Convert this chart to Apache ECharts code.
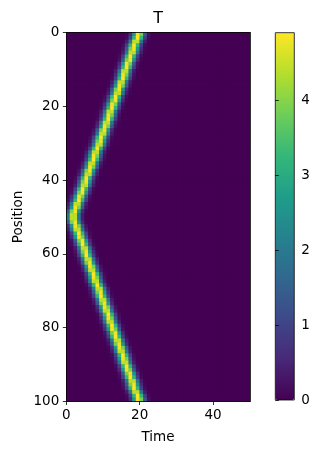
<!DOCTYPE html>
<html><head><meta charset="utf-8">
<script src="https://cdn.jsdelivr.net/npm/echarts@6/dist/echarts.min.js"></script>
<style>html,body{margin:0;padding:0;background:#fff}#c{width:322px;height:455px}</style>
</head><body><div id="c"></div>
<script>
// ---- data ----
const timeCategories = Array.from({length: 50}, (_, i) => i);      // time cells 0..49
const positionCategories = Array.from({length: 100}, (_, i) => i); // position cells 0..99
// time (centre of the bright pulse) for each position row
const arrivalTime = [
  19.7,19.4,19.0,18.6,18.3,17.9,17.5,17.2,16.8,16.5,
  16.1,15.7,15.4,15.0,14.7,14.3,13.9,13.6,13.2,12.8,
  12.5,12.1,11.8,11.4,11.0,10.7,10.3,9.9,9.6,9.2,
  8.9,8.5,8.1,7.8,7.4,7.0,6.7,6.3,6.0,5.6,
  5.2,4.9,4.5,4.2,3.8,3.4,3.1,2.7,2.3,2.0,
  2.0,2.3,2.7,3.1,3.4,3.8,4.2,4.5,4.9,5.2,
  5.6,6.0,6.3,6.7,7.0,7.4,7.8,8.1,8.5,8.9,
  9.2,9.6,9.9,10.3,10.7,11.0,11.4,11.8,12.1,12.5,
  12.8,13.2,13.6,13.9,14.3,14.7,15.0,15.4,15.7,16.1,
  16.5,16.8,17.2,17.5,17.9,18.3,18.6,19.0,19.4,19.7
];
const pulseProfile = [4.90,4.78,4.42,3.88,3.24,2.57,1.93,1.38,0.94,0.60,0.37,0.22,0.12,0.06,0.03];
const xTicks = [0, 20, 40];
const yTicks = [0, 20, 40, 60, 80, 100];
const colorbarTicks = [0, 1, 2, 3, 4];
const colorMin = 0, colorMax = 4.9;
const viridis = ['#440154','#482878','#3e4989','#31688e','#26828e','#1f9e89','#35b779','#6ece58','#b5de2b','#fde725'];

// ---- build heatmap table ----
const cells = [];
for (let r = 0; r < positionCategories.length; r++) {
  for (let c = 0; c < timeCategories.length; c++) {
    const d = Math.abs(c + 0.5 - arrivalTime[r]);
    const k = Math.round(d / 0.25);
    const v = k < pulseProfile.length ? pulseProfile[k] : 0;
    cells.push([c, r, v]);
  }
}

const FONT = 'DejaVu Sans';
const FS = 13.5;
const G = {left: 66.3, top: 32.5, width: 183.5, height: 369};
const CB = {left: 275.3, top: 32.7, width: 19, height: 367.3};
const tickStyle = {color: '#000', width: 0.8};
const labelStyle = {color: '#000', fontFamily: FONT, fontSize: FS, margin: 7};

const chart = echarts.init(document.getElementById('c'), null, {renderer: 'canvas'});
chart.setOption({
  animation: false,
  backgroundColor: '#fff',
  grid: [
    {left: G.left, top: G.top, width: G.width, height: G.height, backgroundColor: '#440154', show: true, borderWidth: 0},
    {left: CB.left, top: CB.top, width: CB.width, height: CB.height}
  ],
  xAxis: [
    {gridIndex: 0, type: 'category', data: timeCategories, show: false, position: 'bottom'},
    {gridIndex: 0, type: 'value', min: 0, max: 50, interval: 20, position: 'bottom', z: 10,
     axisLine: {show: true, onZero: false, lineStyle: tickStyle},
     axisTick: {show: true, length: 3.5, lineStyle: tickStyle, customValues: xTicks},
     axisLabel: Object.assign({customValues: xTicks}, labelStyle),
     splitLine: {show: false},
     name: 'Time', nameLocation: 'middle', nameGap: 29,
     nameTextStyle: {color: '#000', fontFamily: FONT, fontSize: FS}},
    {gridIndex: 0, type: 'value', min: 0, max: 50, position: 'top', z: 10,
     axisLine: {show: true, onZero: false, lineStyle: tickStyle},
     axisTick: {show: false}, axisLabel: {show: false}, splitLine: {show: false}},
    {gridIndex: 1, type: 'value', min: 0, max: 1, show: false}
  ],
  yAxis: [
    {gridIndex: 0, type: 'category', data: positionCategories, inverse: true, show: false, position: 'left'},
    {gridIndex: 0, type: 'value', min: 0, max: 100, interval: 20, inverse: true, position: 'left', z: 10,
     axisLine: {show: true, onZero: false, lineStyle: tickStyle},
     axisTick: {show: true, length: 3.5, lineStyle: tickStyle, customValues: yTicks},
     axisLabel: Object.assign({customValues: yTicks}, labelStyle),
     splitLine: {show: false},
     name: 'Position', nameLocation: 'middle', nameGap: 41, nameMoveOverlap: false,
     nameTextStyle: {color: '#000', fontFamily: FONT, fontSize: FS}},
    {gridIndex: 0, type: 'value', min: 0, max: 100, inverse: true, position: 'right', z: 10,
     axisLine: {show: true, onZero: false, lineStyle: tickStyle},
     axisTick: {show: false}, axisLabel: {show: false}, splitLine: {show: false}},
    {gridIndex: 1, type: 'value', min: colorMin, max: colorMax, position: 'right', z: 10,
     axisLine: {show: false},
     axisTick: {show: true, length: 3.5, lineStyle: tickStyle, customValues: colorbarTicks},
     axisLabel: Object.assign({customValues: colorbarTicks}, labelStyle),
     splitLine: {show: false}}
  ],
  visualMap: {
    type: 'continuous', seriesIndex: 0, min: colorMin, max: colorMax,
    calculable: false, hoverLink: false, orient: 'vertical',
    left: CB.left, top: CB.top, itemWidth: CB.width, itemHeight: CB.height, padding: 0,
    inRange: {color: viridis}
  },
  graphic: [
    {type: 'text', x: G.left + G.width / 2, y: 10.5, z: 100,
     style: {text: 'T', textAlign: 'center', textVerticalAlign: 'top', fill: '#000', fontFamily: FONT, fontSize: 16}},
    {type: 'rect', z: 100, shape: {x: CB.left, y: CB.top, width: CB.width, height: CB.height},
     style: {fill: 'none', stroke: '#000', lineWidth: 0.8}}
  ],
  series: [{
    type: 'heatmap', xAxisIndex: 0, yAxisIndex: 0, data: cells,
    progressive: 0, emphasis: {disabled: true}, itemStyle: {borderWidth: 0}
  }]
});
</script>
</body></html>
